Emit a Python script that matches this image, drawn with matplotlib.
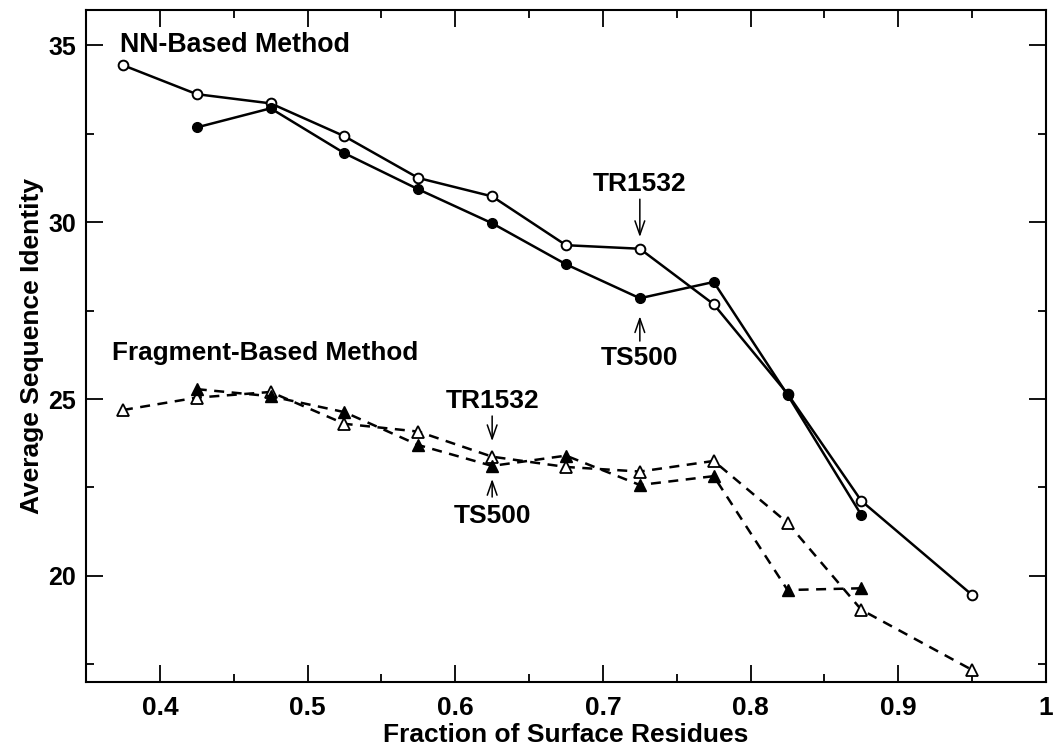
import matplotlib
matplotlib.use('Agg')
import matplotlib.pyplot as plt
from matplotlib.ticker import MultipleLocator

# surface fraction bins
x_tr = [0.375, 0.425, 0.475, 0.525, 0.575, 0.625, 0.675, 0.725, 0.775, 0.825, 0.875, 0.95]
x_ts = [0.425, 0.475, 0.525, 0.575, 0.625, 0.675, 0.725, 0.775, 0.825, 0.875]

# NN-based method
nn_tr1532 = [34.44, 33.62, 33.36, 32.43, 31.25, 30.73, 29.35, 29.25, 27.68, 25.15, 22.12, 19.46]
nn_ts500 = [32.68, 33.22, 31.95, 30.93, 29.97, 28.81, 27.85, 28.31, 25.12, 21.72]

# fragment-based method
fr_tr1532 = [24.69, 25.04, 25.20, 24.30, 24.08, 23.37, 23.08, 22.95, 23.25, 21.50, 19.04, 17.34]
fr_ts500 = [25.28, 25.08, 24.63, 23.70, 23.11, 23.40, 22.57, 22.82, 19.60, 19.65]

font = ['Liberation Sans', 'DejaVu Sans']

fig = plt.figure(figsize=(10.54, 7.46), dpi=100)
ax = fig.add_axes([0.0816, 0.0858, 0.9108, 0.9008])

lw = 1.8
ax.plot(x_tr, nn_tr1532, '-', color='black', lw=lw, marker='o', ms=7,
        mfc='white', mec='black', mew=1.4)
ax.plot(x_ts, nn_ts500, '-', color='black', lw=lw, marker='o', ms=7,
        mfc='black', mec='black')
ax.plot(x_tr, fr_tr1532, '--', color='black', lw=lw, dashes=(4, 3), marker='^',
        ms=9, mfc='white', mec='black', mew=1.3)
ax.plot(x_ts, fr_ts500, '--', color='black', lw=lw, dashes=(4, 3), marker='^',
        ms=9, mfc='black', mec='black')

ax.set_xlim(0.35, 1.0)
ax.set_ylim(17.0, 36.0)
ax.xaxis.set_major_locator(MultipleLocator(0.1))
ax.xaxis.set_minor_locator(MultipleLocator(0.05))
ax.yaxis.set_major_locator(MultipleLocator(5))
ax.yaxis.set_minor_locator(MultipleLocator(2.5))
ax.tick_params(which='both', direction='in', top=True, right=True, width=1.3)
ax.tick_params(which='major', length=12)
ax.tick_params(which='minor', length=6)
ax.tick_params(axis='x', which='major', pad=10)
ax.tick_params(axis='y', which='major', pad=7)
ax.set_xticks([0.4, 0.5, 0.6, 0.7, 0.8, 0.9, 1.0])
ax.set_xticklabels(['0.4', '0.5', '0.6', '0.7', '0.8', '0.9', '1'],
                   family=font, fontweight='bold', fontsize=19)
for lab in ax.get_yticklabels():
    lab.set_family(font)
    lab.set_fontweight('bold')
    lab.set_fontsize(18)
for s in ax.spines.values():
    s.set_linewidth(1.5)

ax.set_xlabel('Fraction of Surface Residues', family=font, fontweight='bold',
              fontsize=19, labelpad=2)
ax.set_ylabel('Average Sequence Identity', family=font, fontweight='bold',
              fontsize=19, labelpad=3)

ax.text(0.3727, 35.0, 'NN-Based Method', ha='left', va='center',
        family=font, fontweight='bold', fontsize=19.3)
ax.text(0.3675, 26.3, 'Fragment-Based Method', ha='left', va='center',
        family=font, fontweight='bold', fontsize=18.8)

tkw = dict(family=font, fontweight='bold', fontsize=19)
arrow = dict(arrowstyle='->,head_length=1.0,head_width=0.35', color='black',
             lw=1.1, shrinkA=0, shrinkB=0)
ax.annotate('', xy=(0.725, 29.58), xytext=(0.725, 30.65), arrowprops=arrow)
ax.text(0.725, 31.07, 'TR1532', ha='center', va='center', **tkw)
ax.annotate('', xy=(0.725, 27.34), xytext=(0.725, 26.64), arrowprops=arrow)
ax.text(0.725, 26.15, 'TS500', ha='center', va='center', **tkw)

ax.annotate('', xy=(0.625, 23.81), xytext=(0.625, 24.52), arrowprops=arrow)
ax.text(0.625, 24.94, 'TR1532', ha='center', va='center', **tkw)
ax.annotate('', xy=(0.625, 22.74), xytext=(0.625, 22.23), arrowprops=arrow)
ax.text(0.625, 21.69, 'TS500', ha='center', va='center', **tkw)

fig.savefig('out.png', dpi=100)
